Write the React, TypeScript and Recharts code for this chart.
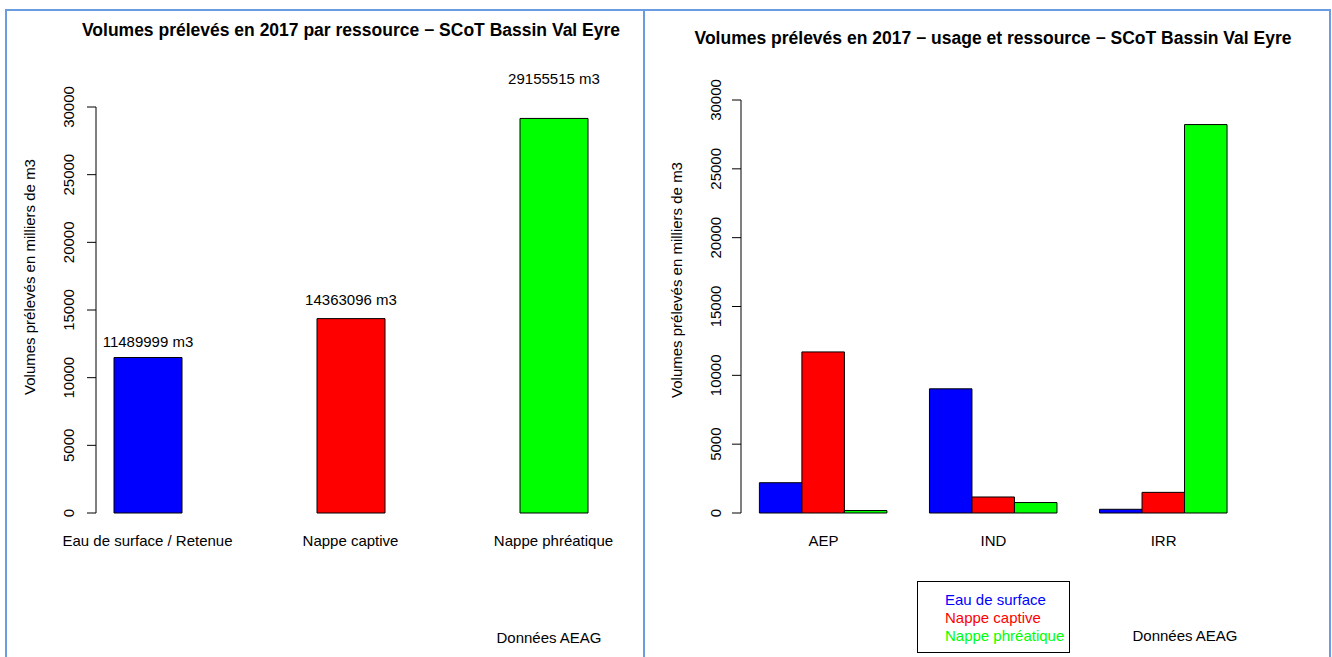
import { BarChart, Bar, XAxis, YAxis, Cell, LabelList, Legend } from "recharts";

const FONT = '"Liberation Sans", Arial, Helvetica, sans-serif';

// left chart: total volume per resource (m3)
const resources = ["Eau de surface / Retenue", "Nappe captive", "Nappe phréatique"];
const resourceColors = ["#0000ff", "#ff0000", "#00ff00"];
const volumesM3 = [11489999, 14363096, 29155515];

// right chart: volume per usage and resource (milliers de m3)
const usages = ["AEP", "IND", "IRR"];
const surfaceVals = [2200, 9020, 270];
const captiveVals = [11700, 1163, 1500];
const phreatiqueVals = [180, 760, 28215];
const legendNames = ["Eau de surface", "Nappe captive", "Nappe phréatique"];

const yTicks = [0, 5000, 10000, 15000, 20000, 25000, 30000];

const resourceData = resources.map((name, i) => ({
  name,
  value: volumesM3[i] / 1000,
  m3: volumesM3[i],
}));

const usageData = usages.map((name, i) => ({
  name,
  surface: surfaceVals[i],
  captive: captiveVals[i],
  phreatique: phreatiqueVals[i],
}));

const RotTick = (props: any) => {
  const { x, y, payload } = props;
  return (
    <text
      x={x}
      y={y}
      transform={`rotate(-90 ${x} ${y})`}
      textAnchor="middle"
      fontSize={15}
      fontFamily={FONT}
      fill="#000"
    >
      {payload.value}
    </text>
  );
};

// R puts the text at 1.1 x the bar value
const TopLabel = (props: any) => {
  const { x, y, width, height, value } = props;
  return (
    <text
      x={x + width / 2}
      y={y - height * 0.1}
      textAnchor="middle"
      dominantBaseline="central"
      fontSize={15}
      fontFamily={FONT}
      fill="#000"
    >
      {value} m3
    </text>
  );
};

const LegendBox = (props: any) => {
  const items = props.payload || [];
  return (
    <div
      style={{
        border: "1px solid #000",
        width: 153,
        height: 72,
        paddingLeft: 27,
        paddingTop: 9,
        boxSizing: "border-box",
        fontFamily: FONT,
        fontSize: 15,
        textAlign: "left",
      }}
    >
      {items.map((it: any) => (
        <div key={it.value} style={{ color: it.color, lineHeight: "18px", whiteSpace: "nowrap" }}>
          {it.value}
        </div>
      ))}
    </div>
  );
};

const xTick = { fontSize: 15, fill: "#000", fontFamily: FONT };

export default function App() {
  return (
    <div
      style={{
        position: "absolute",
        left: 0,
        top: 0,
        width: 1332,
        height: 657,
        background: "#fff",
        overflow: "hidden",
        fontFamily: FONT,
      }}
    >
      {/* document frame */}
      <div style={{ position: "absolute", left: 5, top: 9, width: 1322, height: 700, border: "2px solid #6b9be0" }} />
      <div style={{ position: "absolute", left: 643, top: 9, width: 2, height: 700, background: "#6b9be0" }} />

      <div style={{ position: "absolute", left: 0, top: 0 }}>
        <BarChart
          width={644}
          height={657}
          data={resourceData}
          margin={{ top: 107, right: 37, bottom: 114, left: 36 }}
        >
          <XAxis
            dataKey="name"
            axisLine={false}
            tickLine={false}
            tickSize={0}
            tickMargin={22}
            interval={0}
            height={30}
            padding={{ left: -50, right: -48 }}
            tick={xTick}
          />
          <YAxis
            width={60}
            domain={[0, 30000]}
            ticks={yTicks}
            interval={0}
            axisLine={{ stroke: "#000" }}
            tickLine={{ stroke: "#000" }}
            tickSize={9}
            tickMargin={13}
            tick={<RotTick />}
          />
          <Bar dataKey="value" barSize={68} stroke="#000" strokeWidth={1} isAnimationActive={false}>
            {resourceData.map((d, i) => (
              <Cell key={d.name} fill={resourceColors[i]} />
            ))}
            <LabelList dataKey="m3" content={<TopLabel />} />
          </Bar>
        </BarChart>
      </div>

      <div style={{ position: "absolute", left: 644, top: 0 }}>
        <BarChart
          width={688}
          height={657}
          data={usageData}
          barGap={0}
          margin={{ top: 100, right: 86, bottom: 114, left: 37 }}
        >
          <XAxis
            dataKey="name"
            axisLine={false}
            tickLine={false}
            tickSize={0}
            tickMargin={22}
            interval={0}
            height={30}
            padding={{ left: -2.6, right: -2.6 }}
            tick={xTick}
          />
          <YAxis
            width={60}
            domain={[0, 30000]}
            ticks={yTicks}
            interval={0}
            axisLine={{ stroke: "#000" }}
            tickLine={{ stroke: "#000" }}
            tickSize={9}
            tickMargin={11}
            tick={<RotTick />}
          />
          <Legend
            layout="horizontal"
            verticalAlign="middle"
            align="center"
            content={<LegendBox />}
            wrapperStyle={{ left: 273, top: 581, width: 153, height: 72 }}
          />
          <Bar dataKey="surface" name={legendNames[0]} fill={resourceColors[0]} barSize={42.5} stroke="#000" isAnimationActive={false} />
          <Bar dataKey="captive" name={legendNames[1]} fill={resourceColors[1]} barSize={42.5} stroke="#000" isAnimationActive={false} />
          <Bar dataKey="phreatique" name={legendNames[2]} fill={resourceColors[2]} barSize={42.5} stroke="#000" isAnimationActive={false} />
        </BarChart>
      </div>

      {/* titles and side texts */}
      <div style={{ position: "absolute", left: 0, width: 702, top: 20, textAlign: "center", fontWeight: "bold", fontSize: 17.5, lineHeight: "20px", whiteSpace: "nowrap" }}>
        Volumes prélevés en 2017 par ressource − SCoT Bassin Val Eyre
      </div>
      <div style={{ position: "absolute", left: 593, width: 800, top: 28, textAlign: "center", fontWeight: "bold", fontSize: 17.5, lineHeight: "20px", whiteSpace: "nowrap" }}>
        Volumes prélevés en 2017 − usage et ressource − SCoT Bassin Val Eyre
      </div>
      <svg width={1332} height={657} style={{ position: "absolute", left: 0, top: 0, pointerEvents: "none" }}>
        <text x={35} y={277} transform="rotate(-90 35 277)" textAnchor="middle" fontSize={15} fontFamily={FONT} fill="#000">
          Volumes prélevés en milliers de m3
        </text>
        <text x={682} y={280} transform="rotate(-90 682 280)" textAnchor="middle" fontSize={15} fontFamily={FONT} fill="#000">
          Volumes prélevés en milliers de m3
        </text>
        <text x={549} y={637} textAnchor="middle" dominantBaseline="central" fontSize={15} fontFamily={FONT} fill="#000">
          Données AEAG
        </text>
        <text x={1185} y={635} textAnchor="middle" dominantBaseline="central" fontSize={15} fontFamily={FONT} fill="#000">
          Données AEAG
        </text>
      </svg>
    </div>
  );
}
